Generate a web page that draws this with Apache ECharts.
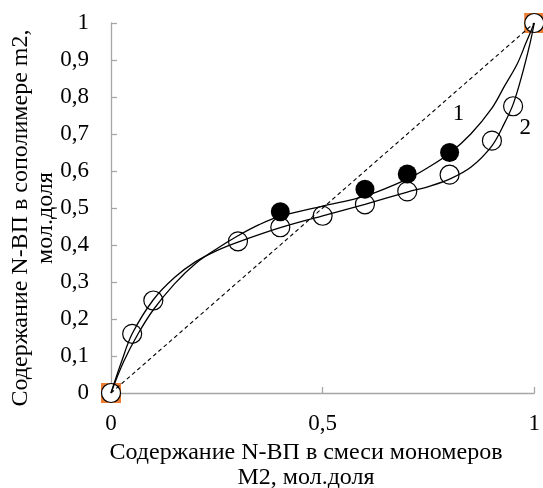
<!DOCTYPE html>
<html>
<head>
<meta charset="utf-8">
<script src="https://cdn.jsdelivr.net/npm/echarts@6/dist/echarts.min.js"></script>
<style>
  html, body { margin: 0; padding: 0; background: #fff; }
  #main { width: 543px; height: 488px; }
</style>
</head>
<body>
<div id="main"></div>
<script>
// tick labels
var xTickLabels = ['0', '0,5', '1'];
var yTickLabels = ['0', '0,1', '0,2', '0,3', '0,4', '0,5', '0,6', '0,7', '0,8', '0,9', '1'];

// experimental points, open circles
var openX = [0, 0.05, 0.1, 0.3, 0.4, 0.5, 0.6, 0.7, 0.8, 0.9, 0.95, 1];
var openY = [0, 0.16, 0.25, 0.41, 0.448, 0.479, 0.51, 0.545, 0.59, 0.682, 0.775, 1];

// experimental points, filled circles
var filledX = [0.4, 0.6, 0.7, 0.8];
var filledY = [0.49, 0.551, 0.592, 0.65];

// end points (orange squares)
var endX = [0, 1];
var endY = [0, 1];

// curve 1
var curve1X = [0, 0.03, 0.064, 0.1, 0.15, 0.2, 0.25, 0.3, 0.35, 0.4, 0.5, 0.6, 0.7, 0.75, 0.8, 0.85, 0.9, 0.93, 0.96, 0.98, 1];
var curve1Y = [0, 0.085, 0.16, 0.225, 0.295, 0.35, 0.39, 0.425, 0.455, 0.478, 0.505, 0.532, 0.578, 0.61, 0.648, 0.7, 0.77, 0.83, 0.89, 0.945, 1];

// curve 2
var curve2X = [0, 0.025, 0.05, 0.1, 0.15, 0.2, 0.25, 0.3, 0.4, 0.5, 0.6, 0.7, 0.75, 0.8, 0.85, 0.9, 0.93, 0.95, 0.97, 0.99, 1];
var curve2Y = [0, 0.085, 0.16, 0.252, 0.312, 0.355, 0.385, 0.408, 0.447, 0.479, 0.51, 0.543, 0.558, 0.578, 0.61, 0.668, 0.73, 0.78, 0.855, 0.945, 1];

// diagonal
var diagX = [0, 1];
var diagY = [0, 1];

// curve numbers
var curveNames = ['1', '2'];
var curveNameX = [0.821, 0.979];
var curveNameY = [0.755, 0.717];

function zip(xs, ys) {
    return xs.map(function (x, i) { return [x, ys[i]]; });
}

var font = 'Liberation Serif, Times New Roman, serif';
var axisGray = '#a6a6a6';

var myChart = echarts.init(document.getElementById('main'));

myChart.setOption({
    backgroundColor: '#fff',
    animation: false,
    grid: {
        left: 111,
        right: 8,
        top: 23,
        bottom: 95
    },
    xAxis: {
        type: 'value',
        min: 0,
        max: 1,
        interval: 0.5,
        splitLine: { show: false },
        axisLine: { lineStyle: { color: axisGray, width: 1.3 } },
        axisTick: { inside: true, length: 6, lineStyle: { color: axisGray, width: 1.3 } },
        axisLabel: {
            margin: 19,
            color: '#000',
            fontFamily: font,
            fontSize: 23,
            formatter: function (v, i) { return xTickLabels[i]; }
        }
    },
    yAxis: {
        type: 'value',
        min: 0,
        max: 1,
        interval: 0.1,
        splitLine: { show: false },
        axisLine: { lineStyle: { color: axisGray, width: 1.3 } },
        axisTick: { inside: true, length: 6, lineStyle: { color: axisGray, width: 1.3 } },
        axisLabel: {
            margin: 22,
            color: '#000',
            fontFamily: font,
            fontSize: 23,
            formatter: function (v, i) { return yTickLabels[i]; }
        }
    },
    graphic: [
        {
            type: 'text',
            x: 33,
            y: 218,
            rotation: Math.PI / 2,
            style: {
                text: 'Содержание N-ВП в сополимере m2,\nмол.доля',
                font: '24px ' + font,
                fill: '#000',
                align: 'center',
                verticalAlign: 'middle',
                lineHeight: 25
            }
        },
        {
            type: 'text',
            x: 306,
            y: 465,
            style: {
                text: 'Содержание N-ВП в смеси мономеров\nМ2, мол.доля',
                font: '24px ' + font,
                fill: '#000',
                align: 'center',
                verticalAlign: 'middle',
                lineHeight: 25
            }
        }
    ],
    series: [
        {
            type: 'scatter',
            symbol: 'rect',
            symbolSize: 20,
            z: 1,
            itemStyle: { color: '#ed7d31', opacity: 1 },
            data: zip(endX, endY)
        },
        {
            type: 'scatter',
            symbol: 'circle',
            symbolSize: 19,
            z: 2,
            itemStyle: { color: '#fff', borderColor: '#000', borderWidth: 1.2, opacity: 1 },
            data: zip(openX, openY)
        },
        {
            type: 'scatter',
            symbol: 'circle',
            symbolSize: 19,
            z: 2,
            itemStyle: { color: '#000', opacity: 1 },
            data: zip(filledX, filledY)
        },
        {
            type: 'line',
            z: 3,
            showSymbol: false,
            lineStyle: { color: '#000', width: 1.1, type: [4, 3] },
            data: zip(diagX, diagY)
        },
        {
            type: 'line',
            z: 3,
            smooth: 0.35,
            showSymbol: false,
            lineStyle: { color: '#000', width: 1.3 },
            data: zip(curve1X, curve1Y)
        },
        {
            type: 'line',
            z: 3,
            smooth: 0.35,
            showSymbol: false,
            lineStyle: { color: '#000', width: 1.3 },
            data: zip(curve2X, curve2Y)
        },
        {
            type: 'scatter',
            symbolSize: 1,
            z: 4,
            itemStyle: { opacity: 0 },
            label: {
                show: true,
                position: 'inside',
                color: '#000',
                opacity: 1,
                fontFamily: font,
                fontSize: 23,
                formatter: function (p) { return curveNames[p.dataIndex]; }
            },
            data: zip(curveNameX, curveNameY)
        }
    ]
});
</script>
</body>
</html>
